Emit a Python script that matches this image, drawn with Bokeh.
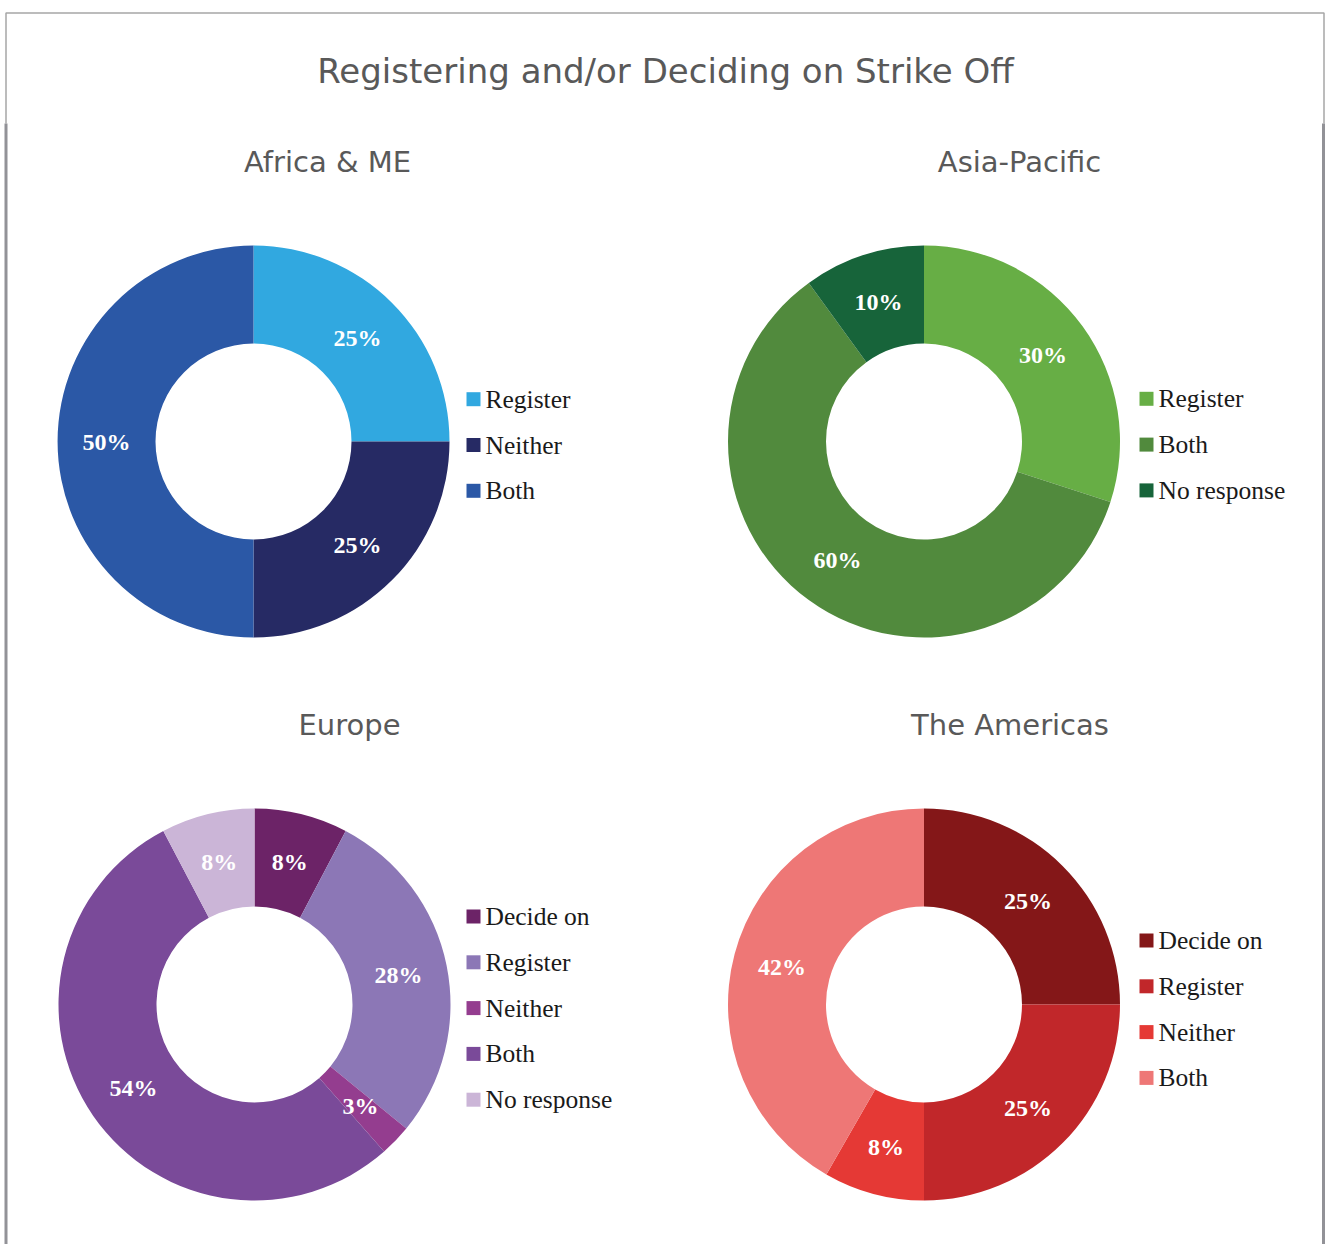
import math
import numpy as np
from bokeh.plotting import figure
from bokeh.models import Range1d, ColumnDataSource
from bokeh.core.properties import value
from bokeh.embed import file_html
from bokeh.resources import INLINE

# ---------------- data ----------------
chart_title = "Registering and/or Deciding on Strike Off"

africa_title = "Africa & ME"
africa_cats = ["Register", "Neither", "Both"]
africa_vals = [25, 25, 50]
africa_colors = ["#31A8E0", "#262A64", "#2B58A6"]

asia_title = "Asia-Pacific"
asia_cats = ["Register", "Both", "No response"]
asia_vals = [30, 60, 10]
asia_colors = ["#67AE45", "#518A3D", "#17643A"]

europe_title = "Europe"
europe_cats = ["Decide on", "Register", "Neither", "Both", "No response"]
europe_vals = [7.7, 28.2, 2.6, 53.8, 7.7]
europe_colors = ["#6C2367", "#8C77B6", "#943D8F", "#7A4A99", "#CBB5D7"]

americas_title = "The Americas"
americas_cats = ["Decide on", "Register", "Neither", "Both"]
americas_vals = [25, 25, 8.3, 41.7]
americas_colors = ["#841718", "#C1272A", "#E53935", "#EE7776"]

# ---------------- layout (pixels) ----------------
W, H = 1325, 1244
R_OUT, R_IN = 196, 98
R_LBL = (R_OUT + R_IN) / 2
PITCH = 45.8

panels = [
    dict(title=africa_title, cats=africa_cats, vals=africa_vals, colors=africa_colors,
         cx=253, cy=441, tx=327, ty=161, lx=473, ly0=398.7),
    dict(title=asia_title, cats=asia_cats, vals=asia_vals, colors=asia_colors,
         cx=923.5, cy=441, tx=1019, ty=161, lx=1146, ly0=398.3),
    dict(title=europe_title, cats=europe_cats, vals=europe_vals, colors=europe_colors,
         cx=254, cy=1004, tx=349, ty=724.5, lx=473, ly0=916),
    dict(title=americas_title, cats=americas_cats, vals=americas_vals, colors=americas_colors,
         cx=923.5, cy=1004, tx=1009.5, ty=724.5, lx=1146, ly0=940),
]

p = figure(width=W, height=H, x_range=Range1d(0, W), y_range=Range1d(-H, 0),
           output_backend="svg", toolbar_location=None, min_border=0,
           x_axis_type=None, y_axis_type=None)
p.outline_line_color = None
p.background_fill_color = "white"
p.border_fill_color = "white"
for g in p.grid:
    g.visible = False

# frame
p.line(x=[5.5, 5.5, 1323.5, 1323.5], y=[-123, -12.5, -12.5, -123], line_color="#A6A6A6", line_width=1.5)
p.multi_line(xs=[[5.5, 5.5], [1323, 1323]], ys=[[-123, -1260], [-123, -1260]],
             line_color="#929297", line_width=3)

# main title
p.text(x=[665], y=[-70], text=[chart_title], text_font=value("DejaVu Sans"),
       text_font_size="34px", text_color="#595959", text_align="center",
       text_baseline="alphabetic")

for pn in panels:
    vals = np.array(pn["vals"], dtype=float)
    frac = vals / vals.sum()
    cend = np.cumsum(frac)
    cstart = cend - frac
    start_a = math.pi / 2 - 2 * math.pi * cstart
    end_a = math.pi / 2 - 2 * math.pi * cend
    mid = (cstart + cend) / 2
    src = ColumnDataSource(dict(
        start=start_a, end=end_a, color=pn["colors"], cat=pn["cats"],
        lx=pn["cx"] + R_LBL * np.sin(2 * math.pi * mid),
        ly=-(pn["cy"] - R_LBL * np.cos(2 * math.pi * mid)),
        lbl=[f"{round(v)}%" for v in vals],
        kx=[pn["lx"]] * len(vals),
        ky=[-(pn["ly0"] + i * PITCH) for i in range(len(vals))],
        tx=[pn["lx"] + 12] * len(vals),
    ))
    p.annular_wedge(x=pn["cx"], y=-pn["cy"], inner_radius=R_IN, outer_radius=R_OUT,
                    start_angle="start", end_angle="end", direction="clock",
                    fill_color="color", line_color=None, source=src)
    p.text(x="lx", y="ly", text="lbl", source=src, text_font=value("Liberation Serif"),
           text_font_style="bold", text_font_size="24px", text_color="white",
           text_align="center", text_baseline="middle")
    # legend
    p.rect(x="kx", y="ky", width=14, height=14, fill_color="color", line_color=None, source=src)
    p.text(x="tx", y="ky", text="cat", source=src, text_font=value("Liberation Serif"),
           text_font_size="25.5px", text_color="#1A1A1A", text_align="left",
           text_baseline="middle")
    # panel title
    p.text(x=[pn["tx"]], y=[-pn["ty"]], text=[pn["title"]], text_font=value("DejaVu Sans"),
           text_font_size="29px", text_color="#595959", text_align="center",
           text_baseline="alphabetic")

open("out.html", "w").write(file_html(p, INLINE))
